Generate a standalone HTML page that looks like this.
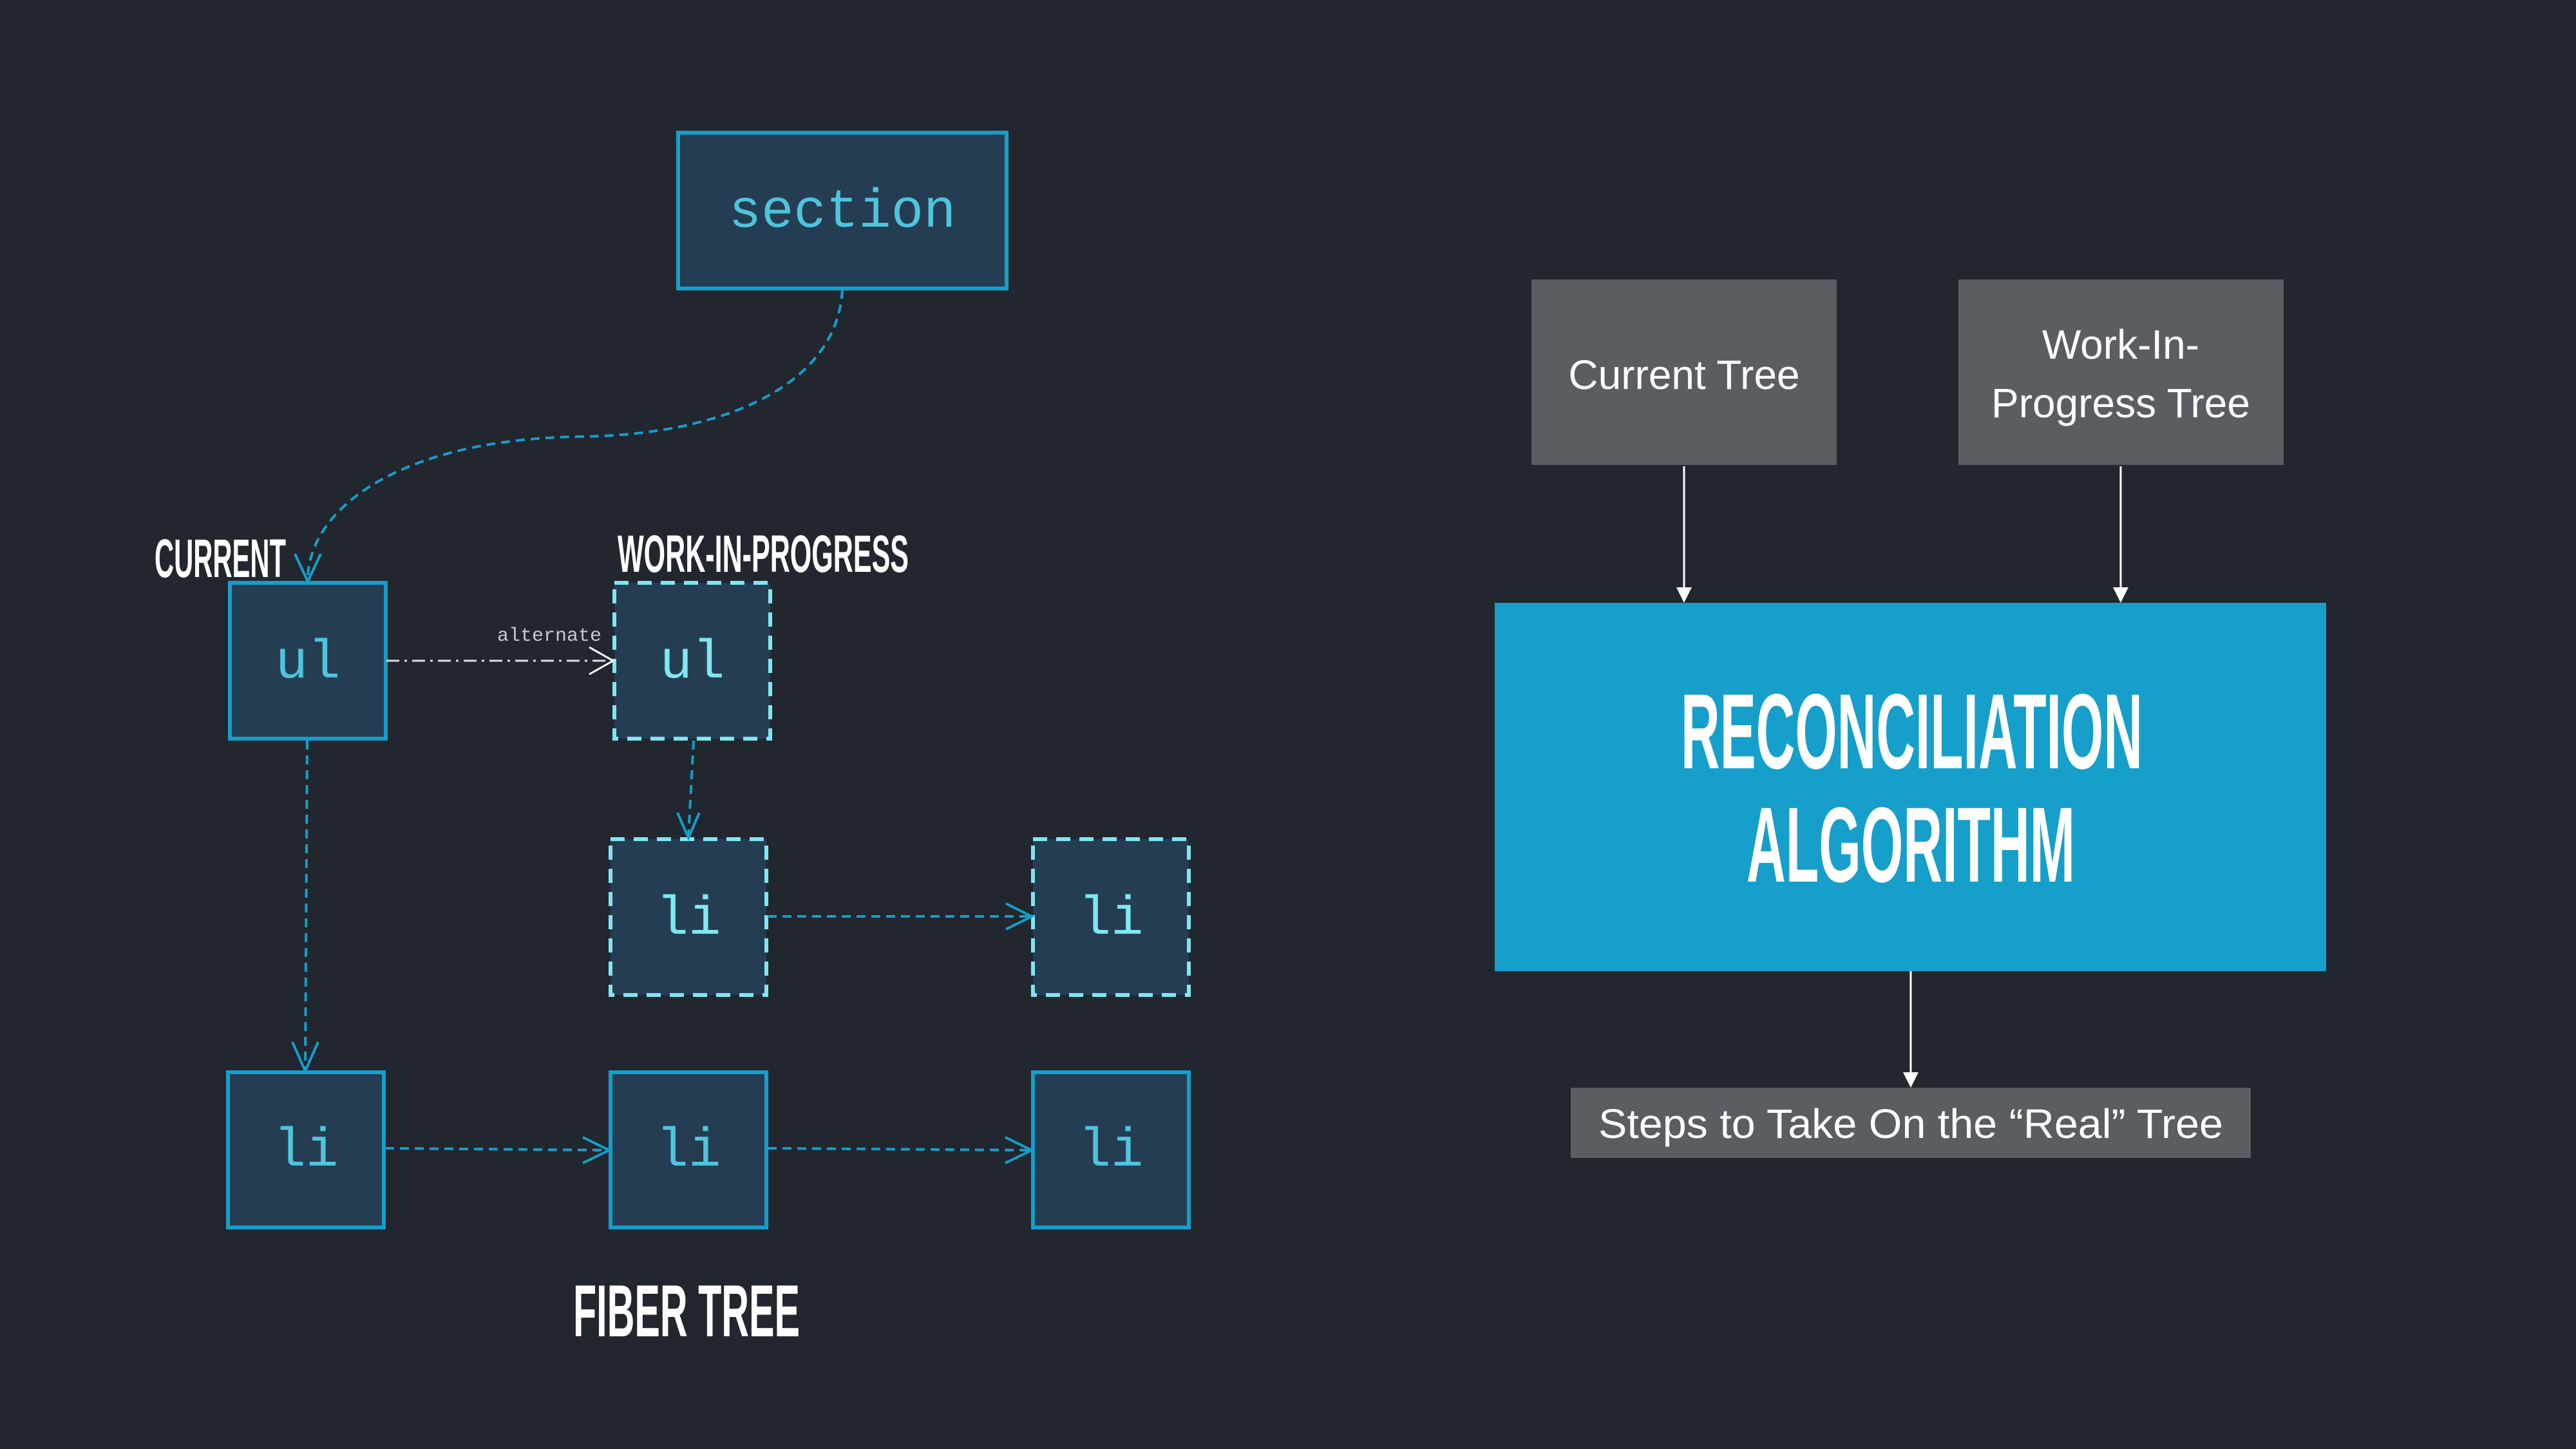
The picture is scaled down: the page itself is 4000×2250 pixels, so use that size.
<!DOCTYPE html>
<html><head><meta charset="utf-8"><style>
html,body{margin:0;padding:0;background:#22262f;}
svg{display:block}
</style></head><body>
<svg width="4000" height="2250" viewBox="0 0 4000 2250" xmlns="http://www.w3.org/2000/svg">
<rect width="4000" height="2250" fill="#22262f"/>
<g fill="#253d52" stroke="#149fca" stroke-width="6">
<rect x="1053" y="206" width="510" height="242"/>
<rect x="357" y="905" width="242" height="242"/>
<rect x="354" y="1665" width="242" height="241"/>
<rect x="948" y="1665" width="242" height="241"/>
<rect x="1604" y="1665" width="242" height="241"/>
</g>
<g fill="#253d52" stroke="#7fe6f3" stroke-width="6" stroke-dasharray="22 14">
<rect x="954" y="905" width="242" height="242"/>
<rect x="948" y="1303" width="242" height="242"/>
<rect x="1604" y="1303" width="242" height="242"/>
</g>
<g font-family="Liberation Mono, DejaVu Sans Mono, monospace" text-anchor="middle">
<text x="1308" y="352" font-size="84" fill="#4fc4dc">section</text>
<text x="478" y="1052" font-size="84" fill="#4fc4dc">ul</text>
<text x="1075" y="1052" font-size="84" fill="#7fe6f3">ul</text>
<text x="1069" y="1450" font-size="84" fill="#7fe6f3">li</text>
<text x="1725" y="1450" font-size="84" fill="#7fe6f3">li</text>
<text x="475" y="1810" font-size="84" fill="#4fc4dc">li</text>
<text x="1069" y="1810" font-size="84" fill="#4fc4dc">li</text>
<text x="1725" y="1810" font-size="84" fill="#4fc4dc">li</text>
<text x="853" y="995" font-size="30" fill="#c8c8c8">alternate</text>
</g>
<g fill="none" stroke="#149fca" stroke-width="4" stroke-dasharray="14 9">
<path d="M1308 450 C1300 600 1120 676 900 678 C620 682 480 790 478 898"/>
<path d="M477 1150 L474 1660"/>
<path d="M1077 1150 L1069 1298"/>
<path d="M1192 1423 L1600 1423"/>
<path d="M598 1783 L944 1786"/>
<path d="M1192 1783 L1600 1786"/>
</g>
<g fill="none" stroke="#149fca" stroke-width="4">
<path d="M458 860 L478 903 L498 860"/>
<path d="M454 1618 L474 1663 L494 1618"/>
<path d="M1052 1262 L1069 1301 L1086 1262"/>
<path d="M1562 1403 L1602 1423 L1562 1443"/>
<path d="M905 1766 L946 1786 L905 1806"/>
<path d="M1561 1766 L1602 1786 L1561 1806"/>
</g>
<path d="M600 1026 L950 1026" stroke="#dddddd" stroke-width="3" stroke-dasharray="20 8 4 8" fill="none"/>
<path d="M915 1005 L952 1026 L915 1047" stroke="#ffffff" stroke-width="3" fill="none"/>
<g font-family="Liberation Sans Narrow, Liberation Sans, sans-serif" font-weight="bold" fill="#ffffff">
<text x="240" y="896" font-size="84" textLength="204" lengthAdjust="spacingAndGlyphs">CURRENT</text>
<text x="959" y="888" font-size="82" textLength="452" lengthAdjust="spacingAndGlyphs">WORK-IN-PROGRESS</text>
<text x="890" y="2075" font-size="114" textLength="352" lengthAdjust="spacingAndGlyphs">FIBER TREE</text>
</g>
<rect x="2378" y="434" width="474" height="288" fill="#5a5d62"/>
<rect x="3041" y="434" width="505" height="288" fill="#5a5d62"/>
<rect x="2321" y="936" width="1291" height="572" fill="#159fca"/>
<rect x="2439" y="1689" width="1056" height="109" fill="#5a5d62"/>
<g font-family="Liberation Sans, DejaVu Sans, sans-serif" fill="#ffffff" text-anchor="middle" font-size="64">
<text x="2615" y="604">Current Tree</text>
<text x="3293" y="557">Work-In-</text>
<text x="3293" y="648">Progress Tree</text>
<text x="2967" y="1767" textLength="970" lengthAdjust="spacingAndGlyphs">Steps to Take On the “Real” Tree</text>
</g>
<g font-family="Liberation Sans Narrow, Liberation Sans, sans-serif" font-weight="bold" fill="#ffffff">
<text x="2610" y="1193" font-size="166" textLength="717" lengthAdjust="spacingAndGlyphs">RECONCILIATION</text>
<text x="2712" y="1369" font-size="166" textLength="510" lengthAdjust="spacingAndGlyphs">ALGORITHM</text>
</g>
<g stroke="#ffffff" stroke-width="3">
<line x1="2615" y1="724" x2="2615" y2="915"/>
<line x1="3293" y1="724" x2="3293" y2="915"/>
<line x1="2967" y1="1508" x2="2967" y2="1668"/>
</g>
<g fill="#ffffff">
<path d="M2603 912 L2627 912 L2615 936 Z"/>
<path d="M3281 912 L3305 912 L3293 936 Z"/>
<path d="M2955 1665 L2979 1665 L2967 1689 Z"/>
</g>
</svg>
</body></html>
